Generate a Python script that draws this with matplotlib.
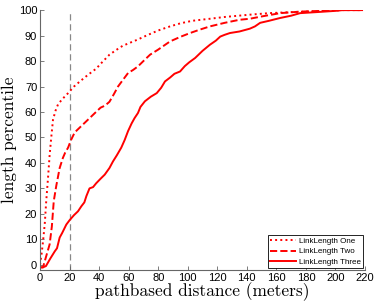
import numpy as np
import matplotlib
matplotlib.use("Agg")
import matplotlib.pyplot as plt

# CDF curves (x in meters, y in percentile)
one_x = [0, 1, 2, 3.2, 4.2, 5.4, 6.5, 7.6, 8.8, 10.5, 12.2, 15, 19, 23, 27, 32.5, 38, 42, 47, 52, 56, 61, 66,
         72, 80, 88, 95, 103, 115, 125, 142, 155, 170, 190, 205, 218]
one_y = [0, 4, 9, 16, 25, 34, 43, 50, 57, 60.5, 63, 65, 67.4, 70, 72, 74.6, 77, 79.5, 82.5, 84.5, 86, 87.2, 88.4,
         90, 92, 93.6, 94.8, 95.8, 96.6, 97.3, 98.2, 98.8, 99.2, 99.6, 100, 100]

two_x = [0, 2, 3.5, 5, 6.5, 8, 9.3, 11, 13.3, 15.5, 17, 19, 21, 23.5, 28, 32.5, 37, 41, 44, 47, 50, 52.8, 56,
         59.6, 63, 66.3, 70, 74.5, 80, 88, 95, 101.6, 108, 115, 125, 135, 142, 150, 162.5, 176, 190, 200, 218]
two_y = [-1, -1, 2, 5, 8, 15, 25, 31, 38, 42, 44, 46, 49, 52, 54.5, 57, 59.5, 61.7, 62.5, 64, 67, 70, 72.5,
         75.3, 76.5, 77.9, 80, 82.5, 84.5, 87.7, 89.5, 91, 92.3, 93.6, 95, 96.2, 96.6, 97.5, 98.8, 99.4, 99.7,
         100, 100]

three_x = [0, 2, 4, 7, 10, 11.5, 13.3, 15, 17.8, 20, 23, 25.7, 28, 30, 31.4, 33.5, 35.9, 38, 41, 43.8, 47,
           49.4, 52, 55, 57.3, 59.6, 62, 64, 66.3, 68, 71, 75, 79, 82, 84.6, 88, 91, 94.8, 98, 101, 105, 110,
           115, 119, 122, 125, 128.6, 135, 142, 145.5, 149, 155, 162.5, 170, 176, 189.6, 200, 205, 218]
three_y = [-1, -1, -0.5, 2.5, 5.3, 6.5, 10.7, 12.5, 15.8, 17.5, 19.5, 21, 23, 24.5, 27, 30, 30.5, 32, 33.8,
           35.4, 38, 40.6, 43, 46, 49, 52.5, 55.5, 57.6, 59.6, 62, 64.2, 66, 67.4, 69.5, 72, 73.5, 75, 75.9,
           78, 79.5, 81.2, 84, 86.4, 88, 89.6, 90.3, 91, 91.6, 92.7, 93.6, 95, 95.8, 96.9, 97.8, 98.8, 99.3,
           99.7, 100, 100]

red = "#ff0000"
plt.rcParams.update({"font.family": "Liberation Sans", "font.size": 8})

fig = plt.figure(figsize=(3.74, 3.06), dpi=100)
ax = fig.add_axes([0.107, 0.118, 0.869, 0.849])

ax.axvline(20, color="#888888", lw=0.9, ls=(0, (5, 3)), zorder=1)
ax.plot(one_x, one_y, color=red, ls=":", lw=1.4, label="LinkLength One")
ax.plot(two_x, two_y, color=red, ls="--", lw=1.4, label="LinkLength Two")
ax.plot(three_x, three_y, color=red, ls="-", lw=1.4, label="LinkLength Three")

ax.set_xlim(0, 220)
ax.set_ylim(-2, 100)
ax.set_xticks(range(0, 221, 20))
ax.set_yticks(range(0, 101, 10))
for s in ("top", "right"):
    ax.spines[s].set_visible(False)
for s in ("left", "bottom"):
    ax.spines[s].set_color("#666666")
    ax.spines[s].set_linewidth(0.8)
ax.tick_params(direction="in", length=3, width=0.6, color="#666666", labelsize=8, pad=2)

lab = dict(family="cmr10", fontsize=12.5)
ax.set_xlabel("pathbased distance (meters)", labelpad=0, **lab)
ax.set_ylabel("length percentile", labelpad=1, **lab)

leg = ax.legend(loc="lower right", fontsize=5.8, fancybox=False, framealpha=1,
                edgecolor="black", borderpad=0.3, handlelength=3.2, labelspacing=0.35,
                handletextpad=0.4, borderaxespad=0.2)
leg.get_frame().set_linewidth(0.6)

fig.savefig("out.png", dpi=100)
